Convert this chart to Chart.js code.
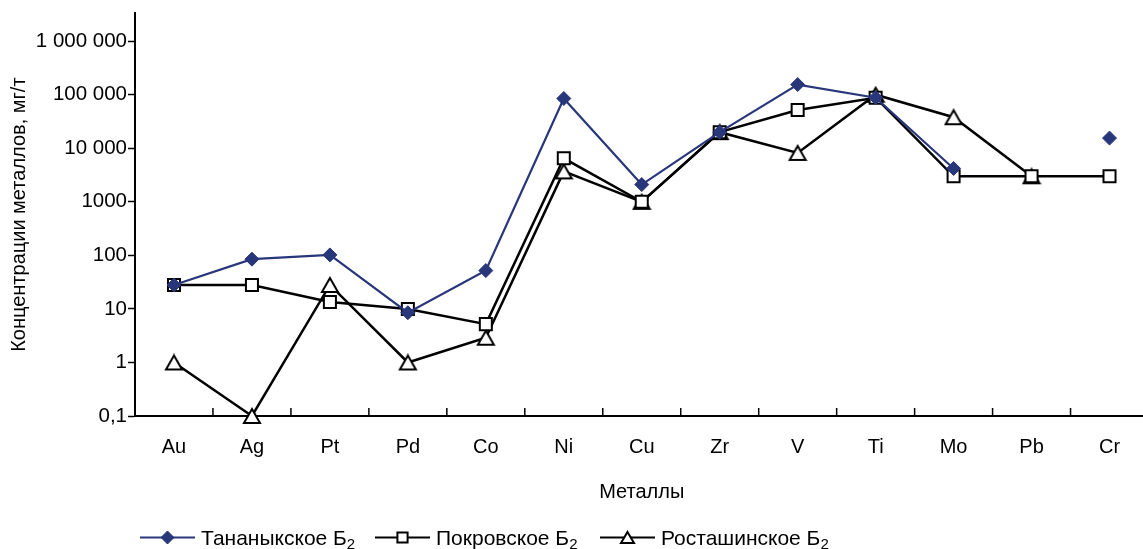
<!DOCTYPE html>
<html>
<head>
<meta charset="utf-8">
<script src="https://cdn.jsdelivr.net/npm/chart.js@4.4.1/dist/chart.umd.min.js"></script>
<style>
    html, body { margin: 0; padding: 0; background: #fff; overflow: hidden; }
    #wrap { position: relative; width: 1160px; height: 549px; }
    #legend { position: absolute; left: 0; top: 526px; width: 1143px; height: 23px;
              font-family: "Liberation Sans", Arial, sans-serif; font-size: 21px; color: #000; }
    .item { position: absolute; top: 0; display: flex; align-items: center; height: 23px; white-space: nowrap; }
    .item canvas { margin-right: 6px; }
    .item sub { font-size: 15px; vertical-align: -4px; line-height: 0; }
</style>
</head>
<body>
<div id="wrap">
    <canvas id="chart"></canvas>
    <div id="legend"></div>
</div>
<script>
// Металлы по оси X
const metals = ['Au', 'Ag', 'Pt', 'Pd', 'Co', 'Ni', 'Cu', 'Zr', 'V', 'Ti', 'Mo', 'Pb', 'Cr'];

// концентрации, мг/т
const tananyk = [28, 85, 102, 8.5, 52, 85000, 2100, 20000, 155000, 88000, 4200, null, 15500];
const pokrov = [28, 28, 13.5, 10, 5.2, 6500, 1000, 20000, 52000, 88000, 3000, 3000, 3000];
const rostash = [1, 0.1, 28, 1, 2.9, 3700, 1000, 20000, 8200, 100000, 38000, 3000, null];

const seriesNames = ['Тананыкское Б₂', 'Покровское Б₂', 'Росташинское Б₂'];

// деления оси Y
const yTickValues = [0.1, 1, 10, 100, 1000, 10000, 100000, 1000000];
const yTickLabels = ['0,1', '1', '10', '100', '1000', '10 000', '100 000', '1 000 000'];

const navy = '#28367a';
const fontFamily = '"Liberation Sans", Arial, sans-serif';

// треугольник, центрированный по габариту (как в оригинале)
function makeTriangle(w, h) {
    const cv = document.createElement('canvas');
    cv.width = w + 4;
    cv.height = h + 4;
    const c = cv.getContext('2d');
    c.fillStyle = '#fff';
    c.strokeStyle = '#000';
    c.lineWidth = 2;
    c.beginPath();
    c.moveTo(cv.width / 2, 2);
    c.lineTo(cv.width - 2, h + 2);
    c.lineTo(2, h + 2);
    c.closePath();
    c.fill();
    c.stroke();
    return cv;
}
const triangleImg = makeTriangle(16, 14);

// маленькие засечки на оси X между категориями (направлены вверх)
const xTicksPlugin = {
    id: 'xTicksUp',
    afterDraw(chart) {
        const xs = chart.scales.x;
        const ctx = chart.ctx;
        const bottom = chart.chartArea.bottom;
        ctx.save();
        ctx.strokeStyle = '#000';
        ctx.lineWidth = 1.5;
        for (let i = 1; i < metals.length; i++) {
            const px = xs.getPixelForValue(i - 0.5);
            ctx.beginPath();
            ctx.moveTo(px, bottom);
            ctx.lineTo(px, bottom - 8);
            ctx.stroke();
        }
        ctx.restore();
    }
};

const ctx = document.getElementById('chart').getContext('2d');
const chart = new Chart(ctx, {
    type: 'line',
    data: {
        labels: metals,
        datasets: [{
            label: seriesNames[0],
            data: tananyk,
            borderColor: navy,
            backgroundColor: navy,
            borderWidth: 2.2,
            pointStyle: 'rectRot',
            pointRadius: 7,
            pointBorderWidth: 1,
            pointBackgroundColor: navy,
            pointBorderColor: navy,
            tension: 0,
            spanGaps: false,
            clip: false
        }, {
            label: seriesNames[1],
            data: pokrov,
            borderColor: '#000',
            borderWidth: 2.5,
            pointStyle: 'rect',
            pointRadius: 8.5,
            pointBorderWidth: 2,
            pointBackgroundColor: '#fff',
            pointBorderColor: '#000',
            tension: 0,
            clip: false
        }, {
            label: seriesNames[2],
            data: rostash,
            borderColor: '#000',
            borderWidth: 2.5,
            pointStyle: triangleImg,
            pointRadius: 9,
            tension: 0,
            clip: false
        }]
    },
    options: {
        responsive: true,
        maintainAspectRatio: false,
        animation: false,
        layout: {
            padding: { left: 0, top: 12, right: 2, bottom: 45 }
        },
        plugins: {
            legend: { display: false },
            tooltip: { enabled: false }
        },
        scales: {
            x: {
                type: 'category',
                offset: true,
                grid: { display: true, drawOnChartArea: false, drawTicks: false, offset: true },
                border: { color: '#000', width: 2 },
                ticks: {
                    color: '#000',
                    font: { family: fontFamily, size: 20 },
                    padding: 19,
                    maxRotation: 0,
                    autoSkip: false
                },
                title: {
                    display: true,
                    text: 'Металлы',
                    color: '#000',
                    font: { family: fontFamily, size: 20 },
                    padding: 0
                },
                afterFit: s => { s.height = 88; }
            },
            y: {
                type: 'logarithmic',
                min: 0.1,
                max: 3320000,
                grid: { display: true, drawOnChartArea: false, drawTicks: true, tickLength: 7, color: '#000', tickWidth: 1.5 },
                border: { color: '#000', width: 2 },
                afterBuildTicks: s => {
                    s.ticks = yTickValues.map(v => ({ value: v }));
                },
                ticks: {
                    color: '#000',
                    font: { family: fontFamily, size: 20.5 },
                    padding: 1,
                    callback: (value) => {
                        const idx = yTickValues.indexOf(value);
                        return idx >= 0 ? yTickLabels[idx] : '';
                    }
                },
                title: {
                    display: true,
                    text: 'Концентрации металлов, мг/т',
                    color: '#000',
                    font: { family: fontFamily, size: 20 },
                    padding: { top: 7, bottom: 0 }
                },
                afterFit: s => { s.width = 135; }
            }
        }
    },
    plugins: [xTicksPlugin]
});

// легенда: линия с маркером посередине (маркеры мельче, чем на графике)
const legendMarkers = [
    { pointStyle: 'rectRot', radius: 6.5 },
    { pointStyle: 'rect', radius: 7.2 },
    { pointStyle: makeTriangle(13, 11) }
];

function drawLegendMarker(canvas, i) {
    const c = canvas.getContext('2d');
    const w = canvas.width, h = canvas.height, cx = w / 2, cy = h / 2;
    const ds = chart.data.datasets[i];
    const m = legendMarkers[i];
    c.strokeStyle = ds.borderColor;
    c.lineWidth = 2.2;
    c.beginPath();
    c.moveTo(0, cy);
    c.lineTo(w, cy);
    c.stroke();
    if (typeof m.pointStyle !== 'string') {
        c.drawImage(m.pointStyle, cx - m.pointStyle.width / 2, cy - m.pointStyle.height / 2);
        return;
    }
    c.fillStyle = ds.pointBackgroundColor;
    c.strokeStyle = ds.pointBorderColor;
    c.lineWidth = ds.pointBorderWidth;
    Chart.helpers.drawPoint(c, {
        pointStyle: m.pointStyle,
        radius: m.radius,
        borderWidth: ds.pointBorderWidth
    }, cx, cy);
}

const legendLefts = [140, 375, 600];
const legend = document.getElementById('legend');
seriesNames.forEach((name, i) => {
    const item = document.createElement('div');
    item.className = 'item';
    item.style.left = legendLefts[i] + 'px';
    const cv = document.createElement('canvas');
    cv.width = 55;
    cv.height = 23;
    item.appendChild(cv);
    const span = document.createElement('span');
    // «₂» выводим как настоящий подстрочный индекс
    span.textContent = name.replace('₂', '');
    const sub = document.createElement('sub');
    sub.textContent = '2';
    span.appendChild(sub);
    item.appendChild(span);
    legend.appendChild(item);
    drawLegendMarker(cv, i);
});
</script>
</body>
</html>
